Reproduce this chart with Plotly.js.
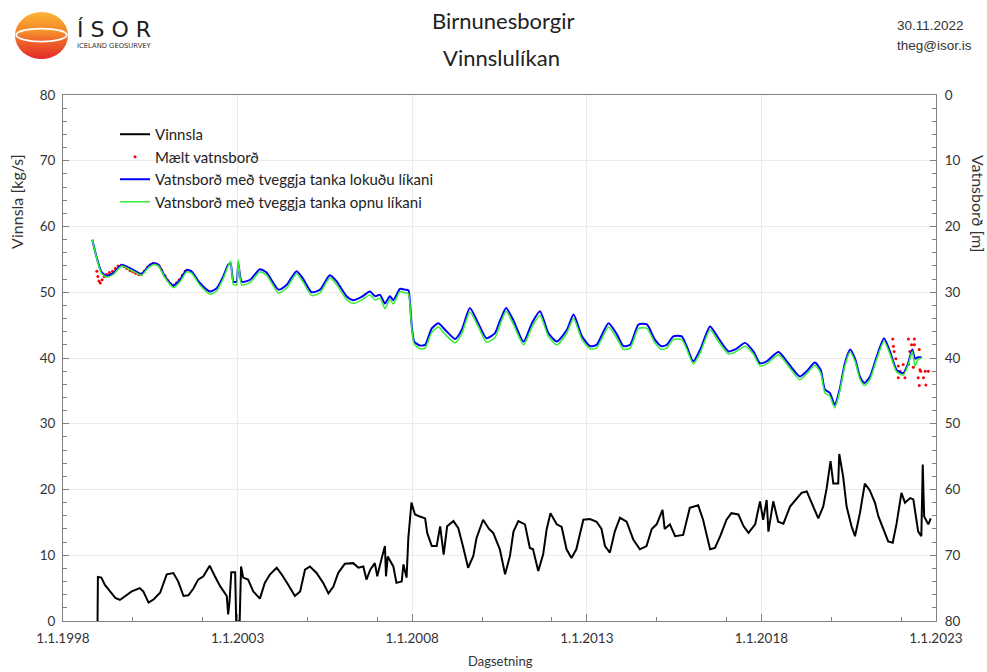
<!DOCTYPE html>
<html>
<head>
<meta charset="utf-8">
<script src="https://cdn.plot.ly/plotly-3.0.1.min.js"></script>
<style>html,body{margin:0;padding:0;background:#fff;}#chart{width:987px;height:672px;}</style>
</head>
<body>
<div id="chart"></div>
<script>
// ---- Data (decimal years) ----
const prodYear = [1998.99,1999.00,1999.10,1999.20,1999.35,1999.50,1999.63,1999.78,1999.97,2000.20,2000.30,2000.45,2000.60,2000.78,2000.97,2001.16,2001.30,2001.45,2001.59,2001.73,2001.87,2002.02,2002.20,2002.35,2002.50,2002.69,2002.73,2002.77,2002.82,2002.93,2002.96,2003.06,2003.10,2003.16,2003.30,2003.45,2003.64,2003.78,2003.93,2004.12,2004.26,2004.45,2004.64,2004.79,2004.93,2005.07,2005.26,2005.45,2005.60,2005.74,2005.88,2006.07,2006.31,2006.46,2006.60,2006.69,2006.80,2006.93,2007.00,2007.13,2007.22,2007.25,2007.30,2007.46,2007.55,2007.70,2007.75,2007.84,2007.89,2007.98,2008.08,2008.22,2008.37,2008.43,2008.56,2008.70,2008.80,2008.90,2009.00,2009.18,2009.32,2009.46,2009.60,2009.75,2009.84,2010.03,2010.20,2010.32,2010.51,2010.66,2010.80,2010.90,2011.04,2011.23,2011.37,2011.46,2011.61,2011.75,2011.85,2011.96,2012.14,2012.28,2012.42,2012.56,2012.70,2012.90,2013.09,2013.28,2013.42,2013.52,2013.66,2013.80,2013.95,2014.14,2014.33,2014.52,2014.71,2014.86,2015.00,2015.17,2015.23,2015.38,2015.53,2015.76,2015.95,2016.19,2016.33,2016.53,2016.67,2016.82,2017.00,2017.14,2017.34,2017.49,2017.63,2017.82,2017.96,2018.05,2018.15,2018.20,2018.34,2018.48,2018.63,2018.82,2019.01,2019.15,2019.30,2019.44,2019.63,2019.77,2019.87,2019.98,2020.06,2020.20,2020.23,2020.34,2020.44,2020.58,2020.68,2020.82,2020.96,2021.10,2021.25,2021.35,2021.49,2021.63,2021.76,2021.87,2022.01,2022.11,2022.26,2022.35,2022.49,2022.58,2022.62,2022.66,2022.78,2022.85];
const prodVal = [0,6.7,6.6,5.5,4.5,3.5,3.2,3.8,4.5,5.0,4.5,2.8,3.3,4.3,7.1,7.3,6.0,3.8,3.9,4.9,6.3,6.8,8.4,6.8,5.3,3.8,1.0,3.0,7.4,7.4,0.0,0.0,8.3,6.6,6.3,4.5,3.4,5.8,7.1,8.1,7.1,5.5,3.8,4.5,7.8,8.3,7.3,5.8,4.2,5.2,7.3,8.7,8.8,8.1,8.3,6.3,7.8,8.8,6.8,9.6,11.4,6.8,9.8,8.3,5.8,6.0,8.6,6.6,12.6,18.0,16.2,15.9,15.6,13.4,11.4,11.4,14.4,10.1,14.4,15.2,14.1,11.2,8.1,9.9,12.6,15.4,14.0,13.4,10.9,7.1,9.9,13.6,15.2,14.7,11.1,10.9,7.6,10.1,13.9,16.4,14.7,14.3,10.9,9.6,10.9,15.4,15.5,15.1,14.0,11.4,10.4,13.6,15.7,15.1,12.4,10.9,11.4,14.0,14.7,16.9,14.0,14.7,12.9,13.1,17.2,17.6,15.4,10.9,11.1,12.9,15.4,16.4,16.2,14.4,13.4,14.7,18.2,15.4,18.4,13.6,18.2,15.1,14.8,17.4,18.7,19.5,19.7,18.0,15.6,17.4,20.2,24.3,20.9,20.9,25.4,22.0,17.4,14.4,12.9,16.4,20.9,19.9,18.0,15.9,14.1,12.1,11.9,14.8,19.5,18.0,18.7,18.5,13.6,12.9,23.8,15.9,14.7,15.6];

const levelYear = [1998.84,1998.96,1999.10,1999.25,1999.44,1999.68,1999.83,2000.01,2000.25,2000.44,2000.59,2000.73,2000.92,2001.16,2001.35,2001.54,2001.68,2001.92,2002.21,2002.40,2002.59,2002.73,2002.80,2002.88,2002.97,2003.02,2003.12,2003.36,2003.64,2003.83,2004.17,2004.40,2004.69,2004.88,2005.12,2005.36,2005.64,2005.83,2006.12,2006.31,2006.55,2006.79,2006.94,2007.08,2007.22,2007.36,2007.46,2007.65,2007.80,2007.89,2007.98,2008.06,2008.22,2008.37,2008.56,2008.75,2008.94,2009.23,2009.42,2009.65,2009.89,2010.13,2010.37,2010.51,2010.69,2010.90,2011.19,2011.43,2011.66,2011.90,2012.14,2012.43,2012.62,2012.86,2013.09,2013.28,2013.62,2013.86,2014.05,2014.24,2014.48,2014.72,2014.95,2015.14,2015.29,2015.48,2015.72,2015.86,2016.05,2016.25,2016.53,2016.77,2017.06,2017.25,2017.53,2017.77,2017.96,2018.15,2018.49,2018.77,2019.10,2019.30,2019.53,2019.70,2019.82,2019.96,2020.10,2020.24,2020.39,2020.54,2020.68,2020.82,2020.95,2021.11,2021.30,2021.51,2021.68,2021.87,2022.06,2022.20,2022.32,2022.40,2022.49,2022.59];
const levelClosed = [22.0,24.6,26.9,27.5,27.1,25.8,26.1,26.6,27.2,26.1,25.6,25.8,27.6,29.0,28.1,26.6,26.8,28.6,29.9,29.4,27.6,25.8,25.6,28.4,28.4,25.6,28.4,28.1,26.5,27.0,29.6,28.9,26.8,28.0,30.0,29.6,27.4,28.3,30.6,31.2,30.7,29.9,30.6,30.4,31.7,30.6,31.2,29.5,29.6,29.7,34.7,37.5,38.1,38.0,35.5,34.7,35.7,37.1,35.7,32.4,34.7,37.0,36.2,34.4,32.4,34.3,37.5,34.7,32.9,36.2,37.5,35.7,33.4,36.7,38.2,38.0,34.7,36.4,38.2,38.0,34.9,34.9,37.2,38.2,38.0,36.7,36.7,38.2,40.5,38.7,35.2,37.0,39.0,38.7,37.7,39.0,40.8,40.5,39.1,40.8,42.8,42.0,40.7,41.8,44.8,45.3,47.1,44.8,40.8,38.7,40.1,42.8,43.8,42.8,39.8,37.0,39.0,41.8,42.3,40.8,38.7,40.1,39.9,39.9];
const levelOpen = [22.0,24.7,27.1,27.7,27.3,26.0,26.3,26.8,27.4,26.3,25.8,26.0,27.8,29.3,28.4,26.9,27.1,28.9,30.3,29.8,27.9,26.0,25.3,28.8,28.9,25.1,28.9,28.5,26.9,27.4,30.1,29.4,27.2,28.5,30.5,30.1,27.8,28.8,31.1,31.7,31.2,30.4,31.2,30.9,32.5,31.1,31.8,29.9,30.1,30.2,35.0,37.9,38.6,38.5,36.1,35.3,36.4,37.7,36.3,33.0,35.2,37.6,36.9,35.0,32.9,34.9,38.0,35.3,33.5,36.7,38.0,36.2,34.0,37.2,38.6,38.5,35.3,37.0,38.7,38.5,35.5,35.5,37.7,38.7,38.5,37.2,37.2,38.6,40.9,39.2,35.7,37.5,39.4,39.1,38.2,39.4,41.2,40.9,39.5,41.2,43.3,42.4,41.1,42.3,45.3,45.8,47.6,45.2,41.2,39.1,40.5,43.2,44.2,43.2,40.2,37.4,39.4,42.1,42.6,41.1,39.0,41.2,40.2,40.0];

const measYear = [1998.97,1999.00,1999.03,1999.07,1999.12,1999.18,1999.25,1999.33,1999.42,1999.50,1999.58,1999.67,1999.75,1999.83,1999.92,2000.00,2000.08,2000.17,2000.25,2000.33,2000.42,2000.50,2000.58,2000.67,2000.75,2000.83,2000.92,2001.00,2001.08,2001.17,2001.25,2001.33,2001.42,2001.50,2021.76,2021.78,2021.80,2021.85,2021.92,2021.97,2021.92,2022.06,2022.11,2022.21,2022.21,2022.25,2022.30,2022.35,2022.38,2022.38,2022.49,2022.52,2022.52,2022.54,2022.56,2022.64,2022.69,2022.71,2022.78];
const measVal = [26.8,27.6,28.3,28.6,28.1,27.6,27.3,27.0,26.8,26.4,26.0,25.9,26.1,26.4,26.7,26.9,27.1,27.3,27.3,26.8,26.2,25.8,25.6,25.7,26.0,26.6,27.5,28.2,28.7,28.9,28.6,28.1,27.4,26.8,37.1,38.2,39.0,40.1,41.2,42.0,43.0,41.0,43.0,37.1,41.0,39.0,38.0,41.4,37.1,38.0,43.0,38.7,44.2,41.8,42.0,43.0,42.0,44.1,42.0];

const majorYears = [1998,2003,2008,2013,2018,2023];
const majorLabels = ['1.1.1998','1.1.2003','1.1.2008','1.1.2013','1.1.2018','1.1.2023'];
const minorYears = [2000,2002,2005,2007,2010,2012,2015,2017,2020,2022];

const legendNames = ['Vinnsla','Mælt vatnsborð','Vatnsborð með tveggja tanka lokuðu líkani','Vatnsborð með tveggja tanka opnu líkani'];

// ---- helpers ----
function yr(d){
  const y = Math.floor(d);
  const start = Date.UTC(y,0,1), end = Date.UTC(y+1,0,1);
  const ms = start + (d - y) * (end - start);
  return new Date(ms).toISOString().slice(0,16).replace('T',' ');
}
const L = 63, T = 95, W = 873, H = 526.5;
const px = x => (x - L) / W;
const py = y => 1 - (y - T) / H;

const FONT = 'Lato, "Open Sans", sans-serif';
const AX = '#808080';
const TXT = '#333333';

const traces = [
  {x: prodYear.map(yr), y: prodVal, type:'scatter', mode:'lines', name: legendNames[0],
   line:{color:'#000000', width:2}, yaxis:'y'},
  {x: measYear.map(yr), y: measVal, type:'scatter', mode:'markers', name: legendNames[1],
   marker:{color:'#ff0000', size:3}, yaxis:'y2'},
  {x: levelYear.map(yr), y: levelClosed, type:'scatter', mode:'lines', name: legendNames[2],
   line:{color:'#0000ff', width:2, shape:'spline', smoothing:0.6}, yaxis:'y2'},
  {x: levelYear.map(yr), y: levelOpen, type:'scatter', mode:'lines', name: legendNames[3],
   line:{color:'#33ee33', width:1.5, shape:'spline', smoothing:0.6}, yaxis:'y2'}
];

const logoSvg = "<svg xmlns='http://www.w3.org/2000/svg' width='106' height='94' viewBox='0 0 53 47'>" +
 "<defs><linearGradient id='g' x1='0' y1='0' x2='0' y2='1'><stop offset='0' stop-color='#fbb634'/><stop offset='0.45' stop-color='#f38026'/><stop offset='1' stop-color='#e4282b'/></linearGradient>" +
 "<linearGradient id='h' x1='0' y1='0' x2='0' y2='1'><stop offset='0' stop-color='#f6a02e'/><stop offset='1' stop-color='#ef5f27'/></linearGradient></defs>" +
 "<ellipse cx='26.5' cy='23.5' rx='26.5' ry='23.5' fill='url(#g)'/>" +
 "<ellipse cx='26.5' cy='23' rx='25.3' ry='6.5' fill='url(#h)' stroke='#ffffff' stroke-width='1.8'/></svg>";

const layout = {
  width: 987, height: 672,
  margin: {l: L, r: 987 - L - W, t: T, b: 672 - T - H, pad: 0},
  paper_bgcolor: '#ffffff', plot_bgcolor: '#ffffff',
  font: {family: FONT, size: 13, color: TXT},
  showlegend: true,
  legend: {x: px(115), y: py(118), xanchor:'left', yanchor:'top', bgcolor:'rgba(0,0,0,0)',
           font:{family: FONT, size: 15, color:'#222'}, tracegroupgap: 0, itemwidth: 30},
  xaxis: {
    type:'date', range:[yr(1998), yr(2023)],
    tickmode:'array', tickvals: majorYears.map(yr), ticktext: majorLabels,
    ticks:'inside', ticklen:7, tickcolor: AX, tickwidth:1, ticklabelstandoff: 5,
    showline:true, linecolor: AX, linewidth:1, mirror:true,
    showgrid:true, gridcolor:'#ebebeb', gridwidth:1, zeroline:false,
    tickfont:{family: FONT, size:13.5, color: TXT},
    minor:{tickmode:'array', tickvals: minorYears.map(yr), ticks:'inside', ticklen:4, tickcolor: AX, showgrid:false}
  },
  yaxis: {
    range:[0,80], dtick:10, tick0:0,
    ticks:'inside', ticklen:6, tickcolor: AX, ticklabelstandoff: 4,
    showline:true, linecolor: AX, linewidth:1,
    showgrid:true, gridcolor:'#ebebeb', zeroline:false,
    tickfont:{family: FONT, size:13.5, color: TXT},
    minor:{dtick:2, ticks:'inside', ticklen:4, tickcolor: AX, showgrid:false}
  },
  yaxis2: {
    overlaying:'y', side:'right', range:[80,0], dtick:10, tick0:0,
    ticks:'inside', ticklen:6, tickcolor: AX, ticklabelstandoff: 5,
    showline:true, linecolor: AX, linewidth:1,
    showgrid:false, zeroline:false,
    tickfont:{family: FONT, size:13.5, color: TXT},
    minor:{dtick:2, ticks:'inside', ticklen:4, tickcolor: AX, showgrid:false}
  },
  images: [{
    source: 'data:image/svg+xml;charset=utf-8,' + encodeURIComponent(logoSvg),
    xref:'paper', yref:'paper', x: px(15), y: py(12), sizex: 53/W, sizey: 47/H,
    xanchor:'left', yanchor:'top', sizing:'stretch', layer:'above'
  }],
  annotations: [
    {text:'Birnunesborgir', xref:'paper', yref:'paper', x: px(503), y: py(20), showarrow:false,
     xanchor:'center', yanchor:'middle', font:{family: FONT, size:22, color:'#222'}},
    {text:'Vinnslulíkan', xref:'paper', yref:'paper', x: px(501), y: py(57), showarrow:false,
     xanchor:'center', yanchor:'middle', font:{family: FONT, size:22, color:'#222'}},
    {text:'30.11.2022', xref:'paper', yref:'paper', x: px(895), y: py(25), showarrow:false,
     xanchor:'left', yanchor:'middle', font:{family:'Liberation Sans, Arial, sans-serif', size:13.5, color:'#333'}},
    {text:'theg@isor.is', xref:'paper', yref:'paper', x: px(895), y: py(45), showarrow:false,
     xanchor:'left', yanchor:'middle', font:{family:'Liberation Sans, Arial, sans-serif', size:13.5, color:'#333'}},
    {text:'Í\u00a0S\u00a0O\u00a0R', xref:'paper', yref:'paper', x: px(75), y: py(29), showarrow:false,
     xanchor:'left', yanchor:'middle', font:{family:'DejaVu Sans, sans-serif', size:22, color:'#1e1e1e'}},
    {text:'ICELAND GEOSURVEY', xref:'paper', yref:'paper', x: px(75), y: py(46), showarrow:false,
     xanchor:'left', yanchor:'middle', font:{family:'DejaVu Sans, sans-serif', size:6.8, color:'#333'}},
    {text:'Vinnsla [kg/s]', xref:'paper', yref:'paper', x: px(17), y: py(202), showarrow:false,
     textangle:-90, xanchor:'center', yanchor:'middle', font:{family: FONT, size:16, color: TXT}},
    {text:'Vatnsborð [m]', xref:'paper', yref:'paper', x: px(978), y: py(204), showarrow:false,
     textangle:90, xanchor:'center', yanchor:'middle', font:{family: FONT, size:16, color: TXT}},
    {text:'Dagsetning', xref:'paper', yref:'paper', x: px(500), y: py(662), showarrow:false,
     xanchor:'center', yanchor:'middle', font:{family: FONT, size:13, color: TXT}}
  ]
};

Plotly.newPlot('chart', traces, layout, {displayModeBar:false, staticPlot:true});
</script>
</body>
</html>
